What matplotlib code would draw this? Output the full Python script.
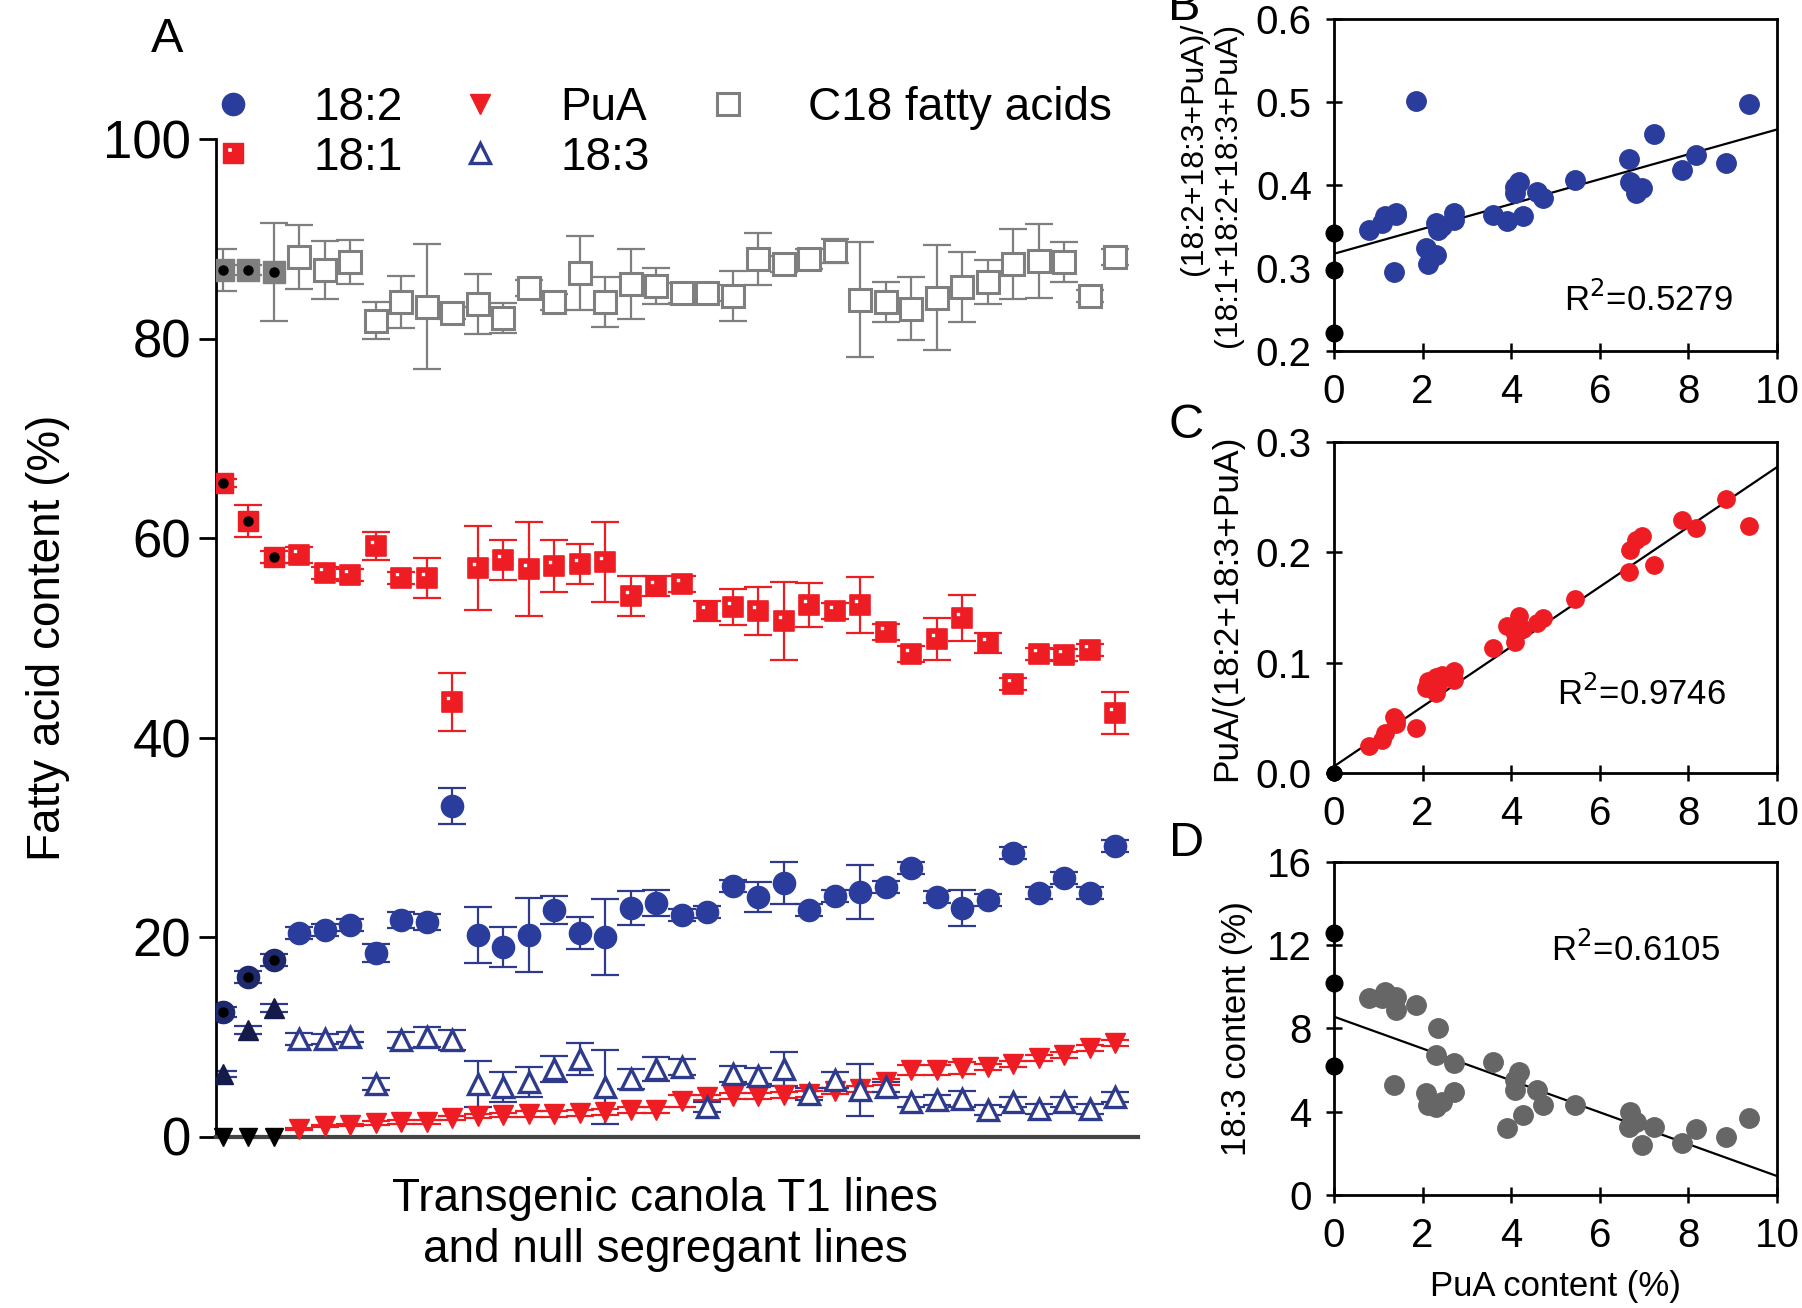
import matplotlib
matplotlib.use("Agg")
import matplotlib.pyplot as plt
import numpy as np
from matplotlib.path import Path
from matplotlib.lines import Line2D

plt.rcParams['font.family'] = ['Liberation Sans', 'DejaVu Sans']

# ---- panel A: fatty acid content per line (3 null segregants first, then T1 lines sorted by PuA)
c18 = [86.9, 86.9, 86.7, 88.2, 86.9, 87.7, 81.8, 83.7, 83.2, 82.6, 83.5, 82.1, 85.1, 83.7, 86.6, 83.7, 85.5, 85.3,
       84.6, 84.6, 84.3, 88.0, 87.5, 88.0, 88.8, 83.9, 83.7, 83.0, 84.1, 85.2, 85.7, 87.5, 87.8, 87.7, 84.3, 88.2]
c18_err = [2.1, 0.5, 4.9, 3.2, 2.9, 2.2, 1.9, 2.6, 6.3, 0.6, 3.0, 1.5, 0.8, 0.8, 3.7, 2.5, 3.5, 1.8,
           1.0, 0.8, 2.5, 2.6, 0.8, 1.0, 1.2, 5.8, 2.0, 3.2, 5.3, 3.5, 2.2, 3.5, 3.7, 2.0, 0.6, 0.8]
fa181 = [65.5, 61.7, 58.1, 58.3, 56.5, 56.3, 59.2, 56.0, 56.0, 43.6, 57.0, 57.8, 56.9, 57.2, 57.4, 57.6, 54.2, 55.2,
         55.4, 52.7, 53.1, 52.7, 51.7, 53.3, 52.7, 53.3, 50.6, 48.4, 49.9, 52.0, 49.5, 45.4, 48.4, 48.3, 48.8, 42.5]
fa181_err = [0.4, 1.6, 0.6, 0.8, 0.6, 0.6, 1.4, 0.6, 2.0, 2.9, 4.2, 2.0, 4.7, 2.6, 2.0, 4.0, 2.0, 1.0,
             0.8, 1.0, 1.8, 2.4, 3.9, 2.2, 0.8, 2.8, 0.8, 0.8, 2.1, 2.3, 1.0, 0.6, 0.6, 0.6, 0.6, 2.1]
fa182 = [12.5, 16.0, 17.7, 20.4, 20.7, 21.2, 18.4, 21.7, 21.5, 33.1, 20.2, 19.0, 20.2, 22.7, 20.4, 20.0, 22.9, 23.4,
         22.2, 22.5, 25.1, 24.0, 25.4, 22.7, 24.1, 24.5, 25.0, 26.9, 24.0, 22.9, 23.7, 28.4, 24.4, 25.9, 24.4, 29.1]
fa182_err = [0.5, 0.6, 0.6, 0.6, 0.6, 0.6, 0.9, 0.8, 0.8, 1.8, 2.8, 2.0, 3.7, 1.4, 1.6, 3.8, 1.7, 1.3,
             0.6, 0.6, 0.6, 1.5, 2.1, 0.6, 0.6, 2.7, 0.6, 0.6, 0.6, 1.8, 0.6, 0.6, 0.6, 0.6, 0.6, 0.6]
fa183 = [6.3, 10.7, 12.9, 9.8, 9.8, 10.0, 5.3, 9.7, 10.0, 9.7, 5.3, 5.0, 5.5, 6.8, 7.8, 5.0, 5.8, 6.8,
         7.0, 3.0, 6.3, 6.1, 6.8, 4.3, 5.7, 4.7, 5.0, 3.5, 3.7, 3.8, 2.7, 3.5, 2.8, 3.5, 2.8, 4.0]
fa183_err = [0.3, 0.4, 0.4, 0.6, 0.5, 0.5, 0.6, 0.8, 1.0, 1.0, 2.3, 1.5, 1.5, 1.3, 1.6, 3.7, 1.0, 1.2,
             0.8, 0.5, 0.8, 0.8, 1.7, 0.6, 0.8, 2.6, 0.5, 0.5, 0.5, 0.8, 0.5, 0.5, 0.5, 0.5, 0.5, 0.5]
pua = [0, 0, 0, 0.78, 1.09, 1.16, 1.36, 1.41, 1.41, 1.85, 2.08, 2.12, 2.30, 2.30, 2.35, 2.43, 2.70, 2.70,
       3.60, 3.91, 4.09, 4.09, 4.18, 4.27, 4.58, 4.72, 5.43, 6.65, 6.69, 6.82, 6.96, 7.22, 7.85, 8.17, 8.84, 9.37]
pua_err = [0, 0, 0, 0.1, 0.1, 0.1, 0.2, 0.2, 0.2, 0.2, 0.2, 0.2, 0.3, 0.3, 0.3, 0.3, 0.3, 0.3,
           0.6, 0.3, 0.3, 0.3, 0.3, 0.3, 0.3, 0.3, 0.3, 0.5, 0.5, 0.6, 0.3, 0.3, 0.3, 0.3, 0.3, 0.3]
n_null = 3

# ---- panels B-D (same line order as pua)
ratio_b = [0.221, 0.297, 0.342, 0.346, 0.354, 0.362, 0.295, 0.366, 0.364, 0.501, 0.324, 0.305, 0.315, 0.354,
           0.346, 0.350, 0.366, 0.358, 0.364, 0.356, 0.390, 0.398, 0.404, 0.362, 0.392, 0.384, 0.406, 0.431,
           0.404, 0.390, 0.396, 0.462, 0.418, 0.436, 0.426, 0.498]
ratio_c = [0.0, 0.0, 0.0, 0.024, 0.030, 0.036, 0.051, 0.048, 0.044, 0.041, 0.077, 0.083, 0.087, 0.072,
           0.080, 0.089, 0.084, 0.092, 0.113, 0.133, 0.119, 0.126, 0.142, 0.130, 0.136, 0.140, 0.158, 0.182,
           0.202, 0.211, 0.215, 0.188, 0.229, 0.222, 0.248, 0.224]
content_d = [6.19, 10.16, 12.56, 9.44, 9.44, 9.76, 5.28, 9.52, 8.88, 9.12, 4.88, 4.32, 6.72, 4.24, 8.0,
             4.48, 6.32, 4.96, 6.4, 3.2, 5.52, 5.04, 5.92, 3.84, 5.04, 4.32, 4.32, 3.28, 4.0, 3.52, 2.4,
             3.28, 2.48, 3.15, 2.77, 3.68]
fit_x = [0, 10]
fit_b = [0.317, 0.467]
fit_c = [0.006, 0.277]
fit_d = [8.56, 0.91]
r2_b, r2_c, r2_d = "0.5279", "0.9746", "0.6105"

BLUE = '#2B3D9C'
NAVY = '#2E3A8C'
RED = '#EE1D24'
GRAY = '#7F7F7F'

# red square with a small light notch, like the original 18:1 symbol
outer = [(-1, -1), (1, -1), (1, 1), (-1, 1), (-1, -1)]
inner = [(-0.6, 0.05), (-0.6, 0.6), (-0.05, 0.6), (-0.05, 0.05), (-0.6, 0.05)]
notch_sq = Path(outer + inner, [Path.MOVETO] + [Path.LINETO] * 3 + [Path.CLOSEPOLY]
                + [Path.MOVETO] + [Path.LINETO] * 3 + [Path.CLOSEPOLY])

fig = plt.figure(figsize=(18.02, 13.08), dpi=100)
W, H = 1802, 1308


def frac(left, top, right, bottom):
    return [left / W, 1 - bottom / H, (right - left) / W, (bottom - top) / H]


axA = fig.add_axes(frac(216, 139, 1138, 1136.5))
x = np.arange(1, len(c18) + 1)
eb = dict(fmt='none', capsize=10, elinewidth=1.6, capthick=1.6)

axA.errorbar(x, c18, yerr=c18_err, ecolor=GRAY, zorder=2, **eb)
axA.errorbar(x, fa181, yerr=fa181_err, ecolor=RED, zorder=2, **eb)
axA.errorbar(x, fa182, yerr=fa182_err, ecolor=NAVY, zorder=2, **eb)
axA.errorbar(x, pua, yerr=pua_err, ecolor=RED, zorder=2, **eb)
axA.errorbar(x, fa183, yerr=fa183_err, ecolor=NAVY, zorder=2, **eb)

t = slice(n_null, None)
nl = slice(0, n_null)
axA.plot(x[t], c18[n_null:], 's', ms=16, mfc='white', mec=GRAY, mew=2.2, ls='none', zorder=3)
axA.plot(x[nl], c18[:n_null], 's', ms=16, mfc=GRAY, mec=GRAY, ls='none', zorder=3)
axA.plot(x[t], fa181[n_null:], marker=notch_sq, ms=15, mfc=RED, mec=RED, mew=1.2, ls='none', zorder=3)
axA.plot(x[nl], fa181[:n_null], 's', ms=15, mfc=RED, mec=RED, ls='none', zorder=3)
axA.plot(x[t], fa182[n_null:], 'o', ms=16, mfc=BLUE, mec=BLUE, ls='none', zorder=3)
axA.plot(x[nl], fa182[:n_null], 'o', ms=16, mfc='#1F2A6E', mec='#1F2A6E', ls='none', zorder=3)
axA.plot(x[t], pua[n_null:], 'v', ms=15, mfc=RED, mec=RED, ls='none', zorder=3, clip_on=False)
axA.plot(x[nl], pua[:n_null], 'v', ms=13, mfc='black', mec='black', ls='none', zorder=4, clip_on=False)
axA.plot(x[t], fa183[n_null:], '^', ms=14, mfc='white', mec=NAVY, mew=2.4, ls='none', zorder=4)
axA.plot(x[nl], fa183[:n_null], '^', ms=14, mfc='#141B4A', mec='#141B4A', ls='none', zorder=4)
# black dots marking the null segregant lines
for vals in (c18, fa181, fa182):
    axA.plot(x[nl], vals[:n_null], 'o', ms=6.5, color='black', ls='none', zorder=5)

axA.set_xlim(0.74, 36.9)
axA.set_ylim(0, 100)
axA.set_yticks([0, 20, 40, 60, 80, 100])
axA.tick_params(axis='y', labelsize=38, length=12, width=2, pad=6)
axA.tick_params(axis='x', bottom=False, labelbottom=False)
for s in ('top', 'right'):
    axA.spines[s].set_visible(False)
axA.spines['left'].set_linewidth(2)
axA.spines['bottom'].set_linewidth(3)
axA.spines['bottom'].set_color('#444444')
axA.set_ylabel('Fatty acid content (%)', fontsize=33)
axA.yaxis.set_label_coords(-0.158, 0.5)
axA.set_xlabel('Transgenic canola T1 lines\nand null segregant lines', fontsize=33, linespacing=1.2)
axA.xaxis.set_label_coords(0.487, -0.041)

handles = [
    Line2D([], [], marker='o', ms=16, mfc=BLUE, mec=BLUE, ls='none'),
    Line2D([], [], marker=notch_sq, ms=15, mfc=RED, mec=RED, ls='none'),
    Line2D([], [], marker='v', ms=15, mfc=RED, mec=RED, ls='none'),
    Line2D([], [], marker='^', ms=14, mfc='white', mec=NAVY, mew=2.4, ls='none'),
    Line2D([], [], marker='s', ms=16, mfc='white', mec=GRAY, mew=2.2, ls='none'),
]
labels = ['18:2', '18:1', 'PuA', '18:3', 'C18 fatty acids']
fig.legend(handles, labels, ncol=3, loc='upper left', bbox_to_anchor=(210 / W, 1 - 86 / H),
           frameon=False, fontsize=33, handlelength=1.0, handletextpad=1.25, columnspacing=1.2,
           labelspacing=0.12, borderpad=0, borderaxespad=0)

fig.text(167 / W, 1 - 40 / H, 'A', fontsize=35, ha='center', va='center')


def small_panel(rect, yvals, color, ms, fit, r2, r2xy, ylim, yticks, yticklabels):
    ax = fig.add_axes(rect)
    ax.plot(fit_x, fit, color='black', lw=1.6, zorder=2)
    ax.plot(pua[n_null:], yvals[n_null:], 'o', ms=ms, color=color, ls='none', zorder=3)
    ax.plot(pua[:n_null], yvals[:n_null], 'o', ms=ms - 2, color='black', ls='none', zorder=4, clip_on=False)
    ax.set_xlim(0, 10)
    ax.set_ylim(*ylim)
    ax.set_xticks([0, 2, 4, 6, 8, 10])
    ax.set_yticks(yticks)
    ax.set_yticklabels(yticklabels)
    ax.tick_params(labelsize=29, direction='inout', length=12, width=1.8, pad=10)
    for s in ax.spines.values():
        s.set_linewidth(2)
    ax.text(r2xy[0], r2xy[1], r'R$^2$=' + r2, fontsize=25, ha='center', va='center')
    return ax


axB = small_panel(frac(1334, 19.3, 1777, 350.7), ratio_b, BLUE, 14, fit_b, r2_b, (7.1, 0.261),
                  (0.2, 0.6), [0.2, 0.3, 0.4, 0.5, 0.6], ['0.2', '0.3', '0.4', '0.5', '0.6'])
axB.set_ylabel('(18:2+18:3+PuA)/\n(18:1+18:2+18:3+PuA)', fontsize=23, linespacing=1.2,
               multialignment='right')
axB.yaxis.set_label_coords(-0.205, 0.5)

axC = small_panel(frac(1334, 441.7, 1777, 773), ratio_c, RED, 12.5, fit_c, r2_c, (6.95, 0.072),
                  (0, 0.3), [0, 0.1, 0.2, 0.3], ['0.0', '0.1', '0.2', '0.3'])
axC.set_ylabel('PuA/(18:2+18:3+PuA)', fontsize=25.5)
axC.yaxis.set_label_coords(-0.205, 0.5)

axD = small_panel(frac(1334, 861.7, 1777, 1195), content_d, '#666666', 14, fit_d, r2_d, (6.8, 11.76),
                  (0, 16), [0, 4, 8, 12, 16], ['0', '4', '8', '12', '16'])
axD.set_ylabel('18:3 content (%)', fontsize=25)
axD.yaxis.set_label_coords(-0.182, 0.5)
axD.set_xlabel('PuA content (%)', fontsize=25)
axD.xaxis.set_label_coords(0.5, -0.225)

fig.text(1184 / W, 1 - 8 / H, 'B', fontsize=35, ha='center', va='center')
fig.text(1186 / W, 1 - 425 / H, 'C', fontsize=35, ha='center', va='center')
fig.text(1187 / W, 1 - 844 / H, 'D', fontsize=35, ha='center', va='center')

fig.savefig('out.png', dpi=100)
